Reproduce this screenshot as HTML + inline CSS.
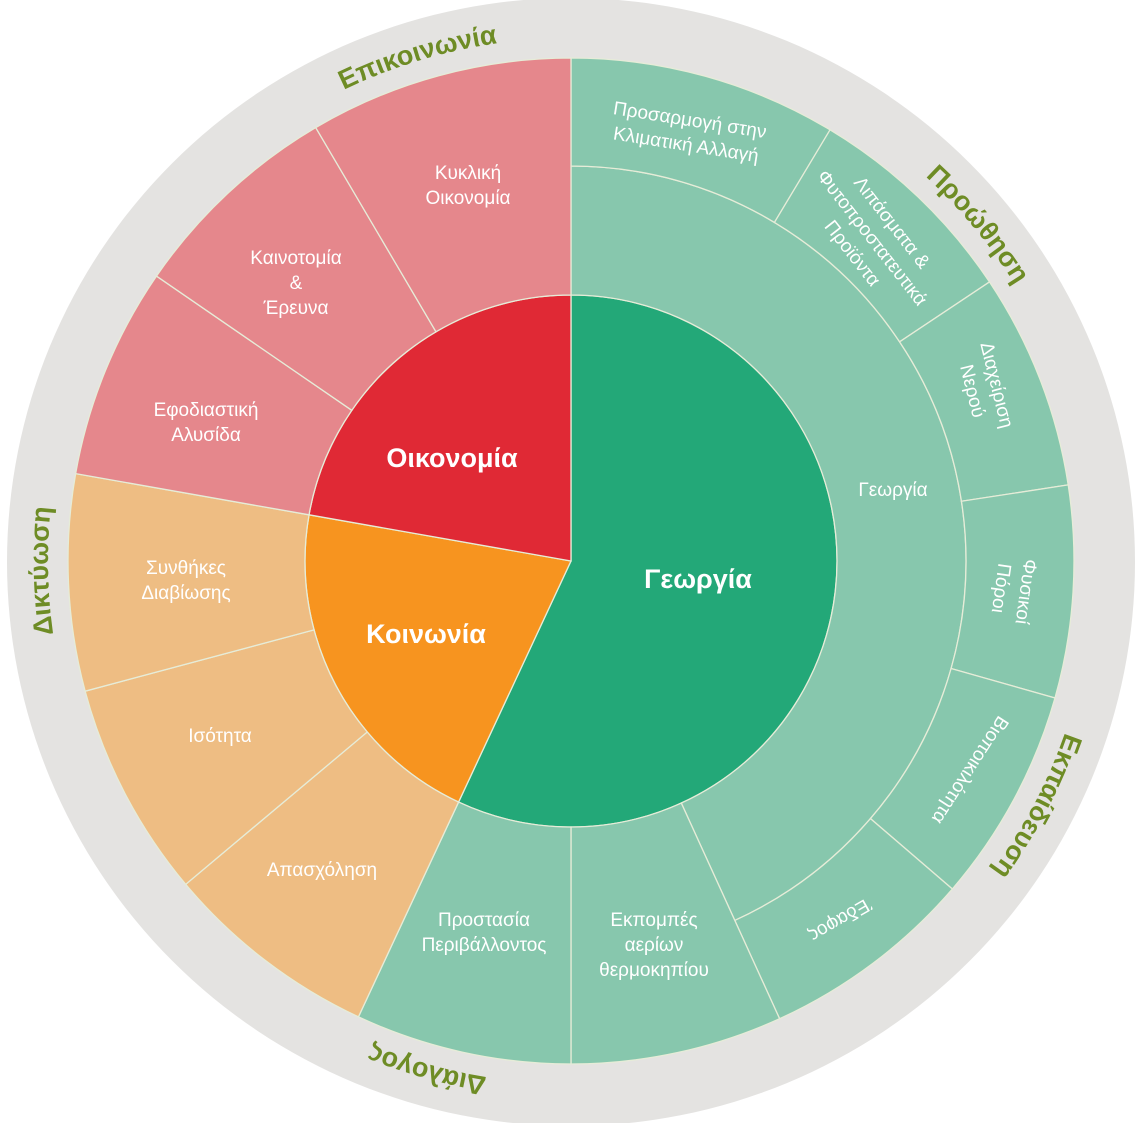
<!DOCTYPE html>
<html><head><meta charset="utf-8"><style>
html,body{margin:0;padding:0;background:#fff;}
svg{display:block;}
text{font-family:"Liberation Sans","DejaVu Sans",sans-serif;fill:#fff;}
.s{font-size:19px;text-anchor:middle;}
.b{font-size:27px;font-weight:bold;text-anchor:middle;}
.o{font-size:27px;font-weight:bold;fill:#6e8c25;}
</style></head><body>
<svg id="svg" width="1139" height="1123" viewBox="0 0 1139 1123" xmlns="http://www.w3.org/2000/svg">
<circle cx="571" cy="562" r="564" fill="#e4e3e1"/>
<g id="segs"></g>
<defs><path id="ring" d="M571,38 A523,523 0 1 1 571,1084 A523,523 0 1 1 571,38"/></defs>
<text class="o" text-anchor="middle"><textPath href="#ring" startOffset="95.3%">Επικοινωνία</textPath></text>
<text class="o" text-anchor="middle"><textPath href="#ring" startOffset="14%">Προώθηση</textPath></text>
<text class="o" text-anchor="middle"><textPath href="#ring" startOffset="32.7%">Εκπαίδευση</textPath></text>
<text class="o" text-anchor="middle"><textPath href="#ring" startOffset="54.4%">Διάλογος</textPath></text>
<text class="o" text-anchor="middle"><textPath href="#ring" startOffset="74.7%">Δικτύωση</textPath></text>

<text class="b" x="698" y="588">Γεωργία</text>
<text class="b" x="452" y="467">Οικονομία</text>
<text class="b" x="426" y="643">Κοινωνία</text>
<text class="s" x="893" y="496">Γεωργία</text>

<text class="s" x="468" y="179">Κυκλική</text><text class="s" x="468" y="204">Οικονομία</text>
<text class="s" x="296" y="264">Καινοτομία</text><text class="s" x="296" y="289">&amp;</text><text class="s" x="296" y="314">Έρευνα</text>
<text class="s" x="206" y="416">Εφοδιαστική</text><text class="s" x="206" y="441">Αλυσίδα</text>
<text class="s" x="186" y="574">Συνθήκες</text><text class="s" x="186" y="599">Διαβίωσης</text>
<text class="s" x="220" y="742">Ισότητα</text>
<text class="s" x="322" y="876">Απασχόληση</text>
<text class="s" x="484" y="926">Προστασία</text><text class="s" x="484" y="951">Περιβάλλοντος</text>
<text class="s" x="654" y="926">Εκπομπές</text><text class="s" x="654" y="951">αερίων</text><text class="s" x="654" y="976">θερμοκηπίου</text>

<g transform="translate(688,132) rotate(9)"><text class="s" y="-6">Προσαρμογή στην</text><text class="s" y="19">Κλιματική Αλλαγή</text></g>
<g transform="translate(872,238) rotate(52)"><text class="s" y="-19">Λιπάσματα &amp;</text><text class="s" y="6">Φυτοπροστατευτικά</text><text class="s" y="31">Προϊόντα</text></g>
<g transform="translate(985,388) rotate(76)"><text class="s" y="-6">Διαχείριση</text><text class="s" y="19">Νερού</text></g>
<g transform="translate(1014,590) rotate(98)"><text class="s" y="-6">Φυσικοί</text><text class="s" y="19">Πόροι</text></g>
<g transform="translate(970,770) rotate(123)"><text class="s" y="6">Βιοποικιλότητα</text></g>
<g transform="translate(840,920) rotate(150)"><text class="s" y="6">Έδαφος</text></g>
</svg>
<script>
(function(){
var cx=571,cy=561,g=document.getElementById('segs');
function pt(r,a){a=a*Math.PI/180;return [cx+r*Math.sin(a),cy-r*Math.cos(a)];}
function seg(r0,r1,a0,a1,fill){
 var p1=pt(r1,a0),p2=pt(r1,a1),p3=pt(r0,a1),p4=pt(r0,a0),l=(a1-a0)>180?1:0;
 var d='M'+p1+' A'+r1+','+r1+' 0 '+l+' 1 '+p2+' L'+p3+' A'+r0+','+r0+' 0 '+l+' 0 '+p4+' Z';
 var e=document.createElementNS('http://www.w3.org/2000/svg','path');
 e.setAttribute('d',d);e.setAttribute('fill',fill);e.setAttribute('stroke','#e6ecd8');e.setAttribute('stroke-width','1.3');
 g.appendChild(e);
}
var LG='#87c7ad',LR='#e5878c',LO='#eebd83';
seg(0.01,266,0,205,'#23a878');seg(0.01,266,205,280,'#f7941f');seg(0.01,266,280,360,'#e02935');
seg(266,395,0,155.5,LG);
var b=[0,31,56.3,81.3,105.8,130.7,155.5];
for(var i=0;i<6;i++)seg(395,503,b[i],b[i+1],LG);
seg(266,503,155.5,180,LG);seg(266,503,180,205,LG);
seg(266,503,205,230,LO);seg(266,503,230,255,LO);seg(266,503,255,280,LO);
seg(266,503,280,304.5,LR);seg(266,503,304.5,329.5,LR);seg(266,503,329.5,360,LR);
})();
</script>
</body></html>
